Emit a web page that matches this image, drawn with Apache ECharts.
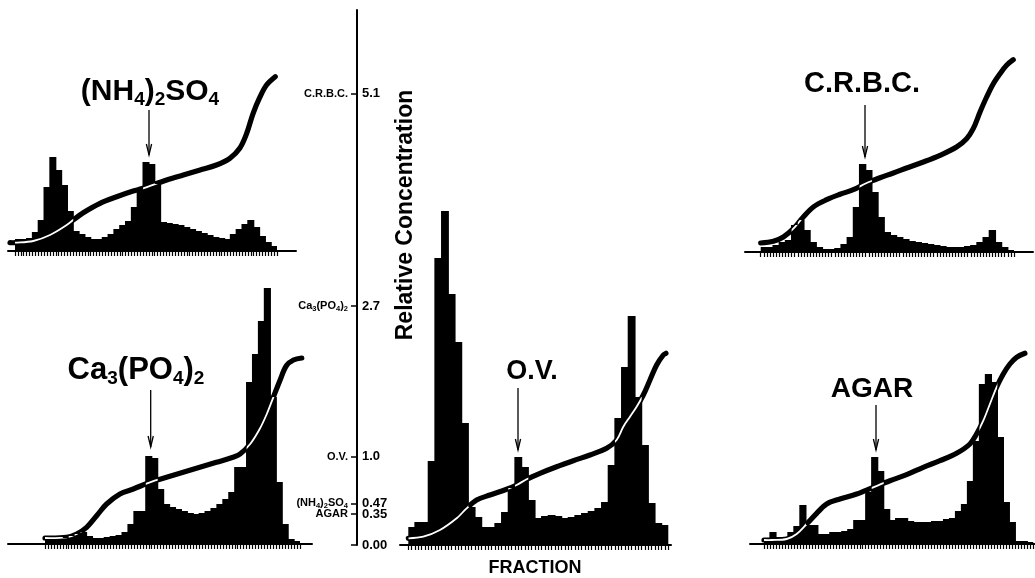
<!DOCTYPE html>
<html><head><meta charset="utf-8">
<script src="https://cdn.jsdelivr.net/npm/echarts@6/dist/echarts.min.js"></script>
<style>html,body{margin:0;padding:0;background:#fff}#c{width:1035px;height:578px}</style>
</head><body><div id="c"></div>
<script>
// ---------------- DATA (bar heights and gradient curves) ----------------
const barsNH4 = [12,12,13,19,31,64,94,81,66,40,20,17,14,12,12,14,17,22,26,30,44,60,89,87,67,29,28,27,26,24,22,20,18,16,14,13,12,17,22,27,31,24,15,9,5];
const curveNH4 = [[-0.86,8.3],[0,8.3],[3.14,10],[6.01,16],[8.88,26],[10.0,31],[11.73,38.3],[14.6,47.7],[17.47,54.3],[20.3,60],[22.0,62.7],[26.06,71],[28.9,76],[31.8,81],[34.6,86],[36.9,92.7],[38.6,102.7],[39.8,117.7],[40.9,137.7],[42.1,154.3],[43.2,166],[44.7,174.3]];

const barsCaP = [7,7,7,6,8,10,12,8,6,6,7,8,9,12,20,33,33,88,86,55,40,37,35,33,31,30,31,33,36,40,45,52,77,77,162,190,223,256,147,62,20,5,3];
const curveCaP = [[0,6],[3.65,6.7],[5.34,10],[7.02,16.7],[8.71,28.3],[10.39,40],[12.64,50],[14.89,55],[17.7,61.7],[20.5,66.7],[23.3,71.7],[26.1,76.7],[28.9,81.7],[31.7,86.7],[32.9,90],[34.6,100],[36.2,115],[37.4,130],[38.5,146.7],[39.6,163.3],[40.7,178.3],[41.9,184],[43.3,186]];

const barsOV = [18,23,23,84,287,334,251,203,122,38,28,18,18,22,33,57,88,78,45,27,29,30,29,27,28,30,32,34,37,43,80,127,178,229,148,100,42,22,20];
const curveOV = [[0,6.7],[2.25,8.3],[4.75,15],[7.25,26.7],[8.75,36.7],[10.25,45],[12.25,50],[14.75,55.7],[16.25,60],[17.75,65.7],[19.75,71.7],[22.25,78.3],[24.75,84.3],[27.25,90],[29.75,96.7],[31.25,105],[32.25,118.3],[33.25,128.3],[34.25,138.3],[35.25,150],[36.25,165],[37.25,180],[38.25,190],[38.65,191.7]];

const barsCRBC = [5,5,7,10,12,27,32,22,10,5,3,3,4,8,15,45,88,82,60,35,20,17,15,13,11,10,9,8,7,6,5,5,5,6,7,10,15,22,10,5,2];
const curveCRBC = [[0,9],[2.05,10.7],[3.67,15],[5.29,23.3],[6.9,35],[8.52,45],[10.68,52.3],[12.84,57.7],[14.99,62.3],[17.15,69],[19.31,74.3],[21.47,79],[23.62,84],[26.32,90],[29.02,96.7],[31.7,105],[33.33,113.3],[34.4,123.3],[35.5,140],[36.57,155],[37.65,168.3],[38.73,178.3],[39.8,186.7],[40.88,192.3]];

const barsAGAR = [5,12,7,7,12,18,39,19,19,10,10,12,12,13,15,24,24,52,87,73,35,24,26,26,23,22,22,22,23,23,25,26,33,40,63,103,160,170,162,107,42,22,3,3,2];
const curveAGAR = [[0,4],[1.28,4],[3.79,5],[5.46,10],[7.13,20],[8.8,30.7],[10.47,40],[12.69,45],[15.48,50],[18.26,56.7],[21.05,63.3],[23.83,69.3],[26.61,76.7],[29.4,83.3],[32.18,90.7],[34.41,100],[35.52,110],[36.64,123.3],[37.75,140],[38.86,156.7],[39.98,170],[41.09,180],[42.2,186.7],[43.6,190.7]];

const centerTickValues = [0, 0.35, 0.47, 1.0, 2.7, 5.1];
const centerTickNames = ['', 'AGAR', '(NH{s|4}){s|2}SO{s|4}', 'O.V.', 'Ca{s|3}(PO{s|4}){s|2}', 'C.R.B.C.'];
const centerTickNumbers = ['0.00', '0.35', '0.47', '1.0', '2.7', '5.1'];
const centerAxisMax = 6.045;

// ---------------- LAYOUT ----------------
const panels = [
  {bars: barsNH4,  curve: curveNH4,  L: 15,    R: 277,    WL: 8,   WR: 296,  base: 251, top: 60,
   label: '(NH{s|4}){s|2}SO{s|4}', lx: 150, ly: 92, fs: 30, ax: 149, ay1: 110, ay2: 155},
  {bars: barsCaP,  curve: curveCaP,  L: 45,    R: 300,    WL: 8,   WR: 312,  base: 544, top: 280,
   label: 'Ca{s|3}(PO{s|4}){s|2}', lx: 136, ly: 370, fs: 31, ax: 150.7, ay1: 390, ay2: 447},
  {bars: barsOV,   curve: curveOV,   L: 408.3, R: 668.3,  WL: 400, WR: 671,  base: 545, top: 200,
   label: 'O.V.', lx: 532, ly: 372, fs: 27, ax: 518, ay1: 388, ay2: 450},
  {bars: barsCRBC, curve: curveCRBC, L: 760.7, R: 1014,   WL: 745, WR: 1033, base: 252, top: 50,
   label: 'C.R.B.C.', lx: 862, ly: 84, fs: 29, ax: 865, ay1: 105, ay2: 157},
  {bars: barsAGAR, curve: curveAGAR, L: 764,   R: 1033.3, WL: 750, WR: 1035, base: 544, top: 340,
   label: 'AGAR', lx: 872, ly: 389, fs: 28, ax: 876, ay1: 405, ay2: 450}
];
const FONT = '"Liberation Sans", Arial, Helvetica, sans-serif';

const grid = [], xAxis = [], yAxis = [], series = [], graphic = [];

function curveRenderer(curve, bars) {
  return function (params, api) {
    const pts = curve.map(p => api.coord(p));
    const poly = [api.coord([0, 0])];
    bars.forEach((v, i) => { poly.push(api.coord([i, v])); poly.push(api.coord([i + 1, v])); });
    poly.push(api.coord([bars.length, 0]));
    return {
      type: 'group',
      children: [
        {type: 'polyline', shape: {points: pts, smooth: 0.35},
         style: {stroke: '#000', lineWidth: 5.2, fill: 'none', lineCap: 'round', lineJoin: 'round'}},
        {type: 'polyline', shape: {points: pts, smooth: 0.35},
         style: {stroke: '#fff', lineWidth: 1.8, fill: 'none'},
         clipPath: {type: 'polygon', shape: {points: poly}}}
      ]
    };
  };
}

panels.forEach((p) => {
  const N = p.bars.length;
  const bw = (p.R - p.L) / N;
  const h = p.base - p.top;
  // bar grid
  const gB = grid.length;
  grid.push({left: p.L, width: p.R - p.L, top: p.top, height: h, containLabel: false});
  const xB = xAxis.length;
  xAxis.push({type: 'category', gridIndex: gB, data: p.bars.map((_, i) => i), show: false});
  xAxis.push({type: 'category', gridIndex: gB, position: 'bottom', data: Array.from({length: 2 * N}, (_, i) => i),
    boundaryGap: true, axisLine: {show: false}, axisLabel: {show: false},
    axisTick: {show: true, interval: 0, length: 5, lineStyle: {color: '#000', width: 1.2}}, splitLine: {show: false}});
  const yB = yAxis.length;
  yAxis.push({type: 'value', gridIndex: gB, min: 0, max: h, show: false});
  series.push({type: 'bar', xAxisIndex: xB, yAxisIndex: yB, data: p.bars, barWidth: bw + 1.2,
    itemStyle: {color: '#000'}, silent: true, z: 2});
  // wide grid (axis line + gradient curve)
  const gW = grid.length;
  grid.push({left: p.WL, width: p.WR - p.WL, top: p.top, height: h, containLabel: false});
  const xW = xAxis.length;
  xAxis.push({type: 'value', gridIndex: gW, min: -(p.L - p.WL) / bw, max: N + (p.WR - p.R) / bw,
    axisLine: {show: true, onZero: false, lineStyle: {color: '#000', width: 2}},
    axisTick: {show: false}, axisLabel: {show: false}, splitLine: {show: false}});
  const yW = yAxis.length;
  yAxis.push({type: 'value', gridIndex: gW, min: 0, max: h, show: false});
  series.push({type: 'custom', xAxisIndex: xW, yAxisIndex: yW, data: [[0, 0]], silent: true, z: 5,
    renderItem: curveRenderer(p.curve, p.bars)});

  // label + arrow
  graphic.push({type: 'text', x: p.lx, y: p.ly, z: 10, style: {
    text: p.label, fill: '#000', fontSize: p.fs, fontWeight: 'bold', fontFamily: FONT,
    align: 'center', verticalAlign: 'middle', textAlign: 'center', textVerticalAlign: 'middle',
    lineHeight: Math.round(p.fs * 1.15),
    rich: {s: {fontSize: Math.round(p.fs * 0.62), fontWeight: 'bold', fontFamily: FONT, verticalAlign: 'bottom',
      lineHeight: Math.round(p.fs * 0.55), fill: '#000'}}
  }});
  graphic.push({type: 'line', z: 10, shape: {x1: p.ax, y1: p.ay1, x2: p.ax, y2: p.ay2},
    style: {stroke: '#000', lineWidth: 1.3}});
  graphic.push({type: 'polyline', z: 10, shape: {points: [[p.ax - 2.6, p.ay2 - 11], [p.ax, p.ay2], [p.ax + 2.6, p.ay2 - 11]]},
    style: {stroke: '#000', lineWidth: 1.3, fill: 'none'}});
});

// central relative-concentration axis
const gC = grid.length;
grid.push({left: 357, width: 20, top: 10, height: 535});
xAxis.push({type: 'value', gridIndex: gC, show: false, min: 0, max: 1});
const nameOfValue = (v) => { const i = centerTickValues.findIndex(t => Math.abs(t - v) < 1e-6); return i < 0 ? '' : i; };
yAxis.push({type: 'value', gridIndex: gC, min: 0, max: centerAxisMax, position: 'left',
  axisLine: {show: true, lineStyle: {color: '#000', width: 2}},
  axisTick: {show: true, customValues: centerTickValues, length: 6, lineStyle: {color: '#000', width: 1.5}},
  axisLabel: {show: true, customValues: centerTickValues, margin: 9, color: '#000', fontSize: 11, fontWeight: 'bold',
    fontFamily: FONT, lineHeight: 13,
    formatter: (v) => { const i = nameOfValue(v); return i === '' ? '' : centerTickNames[i]; },
    rich: {s: {fontSize: 7.5, fontWeight: 'bold', fontFamily: FONT, verticalAlign: 'bottom', lineHeight: 8, color: '#000'}}},
  splitLine: {show: false}});
yAxis.push({type: 'value', gridIndex: gC, min: 0, max: centerAxisMax, position: 'left',
  axisLine: {show: false}, axisTick: {show: false},
  axisLabel: {show: true, inside: true, customValues: centerTickValues, margin: 5, color: '#000', fontSize: 13,
    fontWeight: 'bold', fontFamily: FONT,
    formatter: (v) => { const i = nameOfValue(v); return i === '' ? '' : centerTickNumbers[i]; }},
  splitLine: {show: false}});

graphic.push({type: 'text', x: 406, y: 215, rotation: Math.PI / 2, z: 10, style: {
  text: 'Relative Concentration', fill: '#000', fontSize: 23, fontWeight: 'bold', fontFamily: FONT,
  align: 'center', verticalAlign: 'middle', textAlign: 'center', textVerticalAlign: 'middle'}});
graphic.push({type: 'text', x: 535, y: 568, z: 10, style: {
  text: 'FRACTION', fill: '#000', fontSize: 18, fontWeight: 'bold', fontFamily: FONT,
  align: 'center', verticalAlign: 'middle', textAlign: 'center', textVerticalAlign: 'middle'}});

const chart = echarts.init(document.getElementById('c'), null, {renderer: 'canvas'});
chart.setOption({animation: false, backgroundColor: '#fff', grid, xAxis, yAxis, series, graphic});
</script></body></html>
